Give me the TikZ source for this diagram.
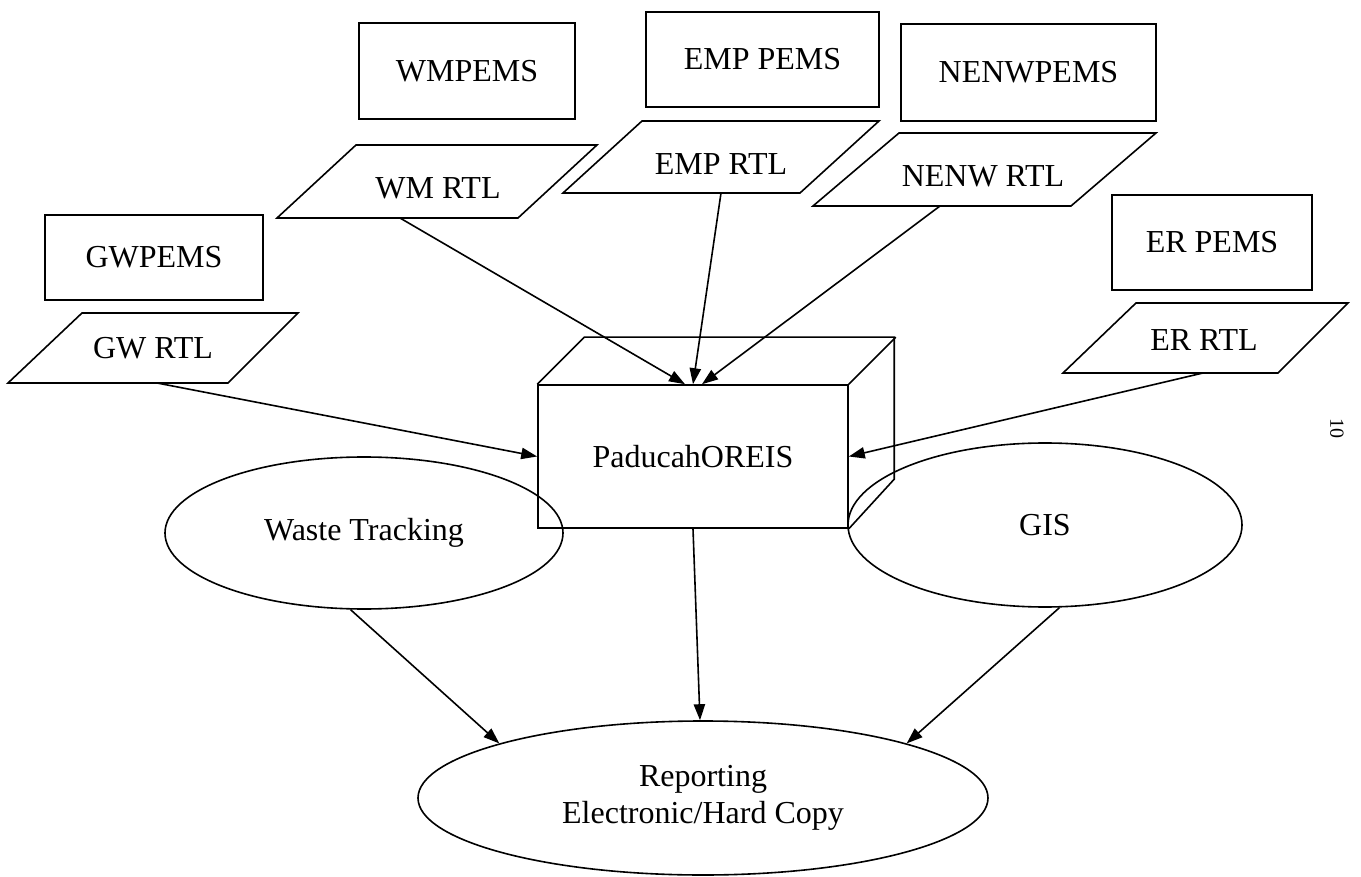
\documentclass[tikz,border=0pt]{standalone}
\usepackage{fontspec}
\setmainfont{Liberation Serif}
\usetikzlibrary{shapes.geometric,arrows.meta,calc}
\begin{document}
\begin{tikzpicture}[x=0.75pt,y=-0.75pt, line width=1.2pt,
  txt/.style={font=\fontsize{24}{28}\selectfont, inner sep=0pt},
  pemsbox/.style={draw, rectangle, inner sep=0pt, font=\fontsize{24}{28}\selectfont},
  oval/.style={draw, ellipse, inner sep=0pt, align=center, font=\fontsize{24}{27.75}\selectfont},
  arr/.style={-{Triangle[length=12pt,width=8.5pt]}}]
\useasboundingbox (0,0) rectangle (1361,877);

% PEMS boxes
\node[pemsbox, minimum width=163.5pt, minimum height=63.75pt] (gwpems) at (154,257.5) {GWPEMS};
\node[pemsbox, minimum width=162pt, minimum height=72pt] (wmpems) at (467,71) {WMPEMS};
\node[pemsbox, minimum width=174.75pt, minimum height=71.25pt] (emppems) at (762.5,59.5) {EMP PEMS};
\node[pemsbox, minimum width=191.25pt, minimum height=72.75pt] (nenwpems) at (1028.5,72.5) {NENWPEMS};
\node[pemsbox, minimum width=150pt, minimum height=71.25pt] (erpems) at (1212,242.5) {ER PEMS};

% RTL parallelograms
\draw (82,313) -- (298,313) -- (228,383) -- (8,383) -- cycle;
\node[txt] (gwrtl) at (153,348) {GW RTL};
\draw (356,145) -- (597,145) -- (518,218) -- (277,218) -- cycle;
\node[txt] (wmrtl) at (438,188) {WM RTL};
\draw (642,121) -- (879,121) -- (800,193) -- (563,193) -- cycle;
\node[txt] (emprtl) at (721,164) {EMP RTL};
\draw (899,133) -- (1156,133) -- (1071,206) -- (813,206) -- cycle;
\node[txt] (nenwrtl) at (983,176) {NENW RTL};
\draw (1136,303) -- (1348,303) -- (1278,373) -- (1063,373) -- cycle;
\node[txt] (errtl) at (1204,340) {ER RTL};

\coordinate (gwout) at (157,383);
\coordinate (wmout) at (400,218);
\coordinate (empout) at (721,193);
\coordinate (nenwout) at (940,206);
\coordinate (erout) at (1203,373);

% cube
\node[draw, rectangle, inner sep=0pt, minimum width=232.5pt, minimum height=107.25pt,
      font=\fontsize{24}{28}\selectfont] (cube) at (693,456.5) {PaducahOREIS};
\draw (cube.north west) -- ++(47,-47) -- ++(310,0) -- ++(0,142) -- (cube.south east);
\draw (cube.north east) -- ++(47,-47);

% ellipses
\node[oval, minimum width=298.5pt, minimum height=114pt] (waste) at (364,533) {Waste Tracking};
\node[oval, minimum width=295.5pt, minimum height=123pt] (gis) at (1045,525) {GIS};
\node[oval, minimum width=427.5pt, minimum height=115.5pt] (report) at (703,798) {Reporting\\Electronic/Hard Copy};

% connectors
\draw[arr] (gwout) -- (cube.west);
\draw[arr] (wmout) -- ($(cube.north)+(-8,0)$);
\draw[arr] (empout) -- (cube.north);
\draw[arr] (nenwout) -- ($(cube.north)+(9,0)$);
\draw[arr] (erout) -- (cube.east);
\draw[arr] (waste.260) -- (report.165);
\draw[arr] (cube.south) -- ($(report.north)+(-3,0)$);
\draw[arr] (gis.280) -- (report.15);

% page number
\node[font=\fontsize{15}{17}\selectfont, rotate=-90, inner sep=0pt] (pagenum) at (1337,428) {10};
\end{tikzpicture}
\end{document}
